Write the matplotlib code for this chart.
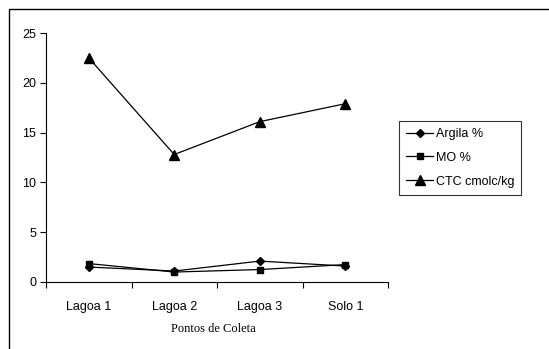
import matplotlib.pyplot as plt
from matplotlib.patches import Rectangle

categories = ["Lagoa 1", "Lagoa 2", "Lagoa 3", "Solo 1"]
argila = [1.5, 1.1, 2.1, 1.6]
mo = [1.85, 1.0, 1.25, 1.75]
ctc = [22.5, 12.8, 16.1, 17.9]
labels = ["Argila %", "MO %", "CTC cmolc/kg"]

W, H = 549, 349
fig = plt.figure(figsize=(W / 100, H / 100), dpi=100)
plt.rcParams['font.family'] = ['Liberation Sans', 'DejaVu Sans']

# outer chart frame (clipped at right and bottom like the reference)
fig.patches.append(Rectangle((9 / W, -0.1), 1.2, (H - 9) / H + 0.1, transform=fig.transFigure,
                             fill=False, edgecolor='black', linewidth=1.0))

ax = fig.add_axes([46 / W, (H - 282) / H, (388 - 46) / W, (282 - 33) / H])
x = range(len(categories))
ax.plot(x, argila, color='black', lw=0.9, marker='D', ms=4.5, label=labels[0])
ax.plot(x, mo, color='black', lw=0.9, marker='s', ms=5, label=labels[1])
ax.plot(x, ctc, color='black', lw=0.9, marker='^', ms=6.5, label=labels[2])

ax.set_xlim(-0.5, 3.5)
ax.set_ylim(0, 25)
ax.set_yticks([0, 5, 10, 15, 20, 25])
ax.set_xticks(x)
ax.set_xticklabels(categories)
ax.set_xticks([-0.5, 0.5, 1.5, 2.5, 3.5], minor=True)
ax.tick_params(axis='x', which='major', length=0, pad=14, labelsize=9)
ax.tick_params(axis='x', which='minor', length=4, width=0.8, direction='out')
ax.tick_params(axis='y', length=4, width=0.8, labelsize=9, pad=3)
for s in ['top', 'right']:
    ax.spines[s].set_visible(False)
for s in ['left', 'bottom']:
    ax.spines[s].set_linewidth(0.8)

fig.text(213 / W, 1 - 329 / H, "Pontos de Coleta", ha='center', va='center',
         family=['Liberation Serif', 'DejaVu Serif'], fontsize=9)

leg = fig.legend(loc='upper left', bbox_to_anchor=(399 / W, 1 - 121 / H), frameon=True,
                 fancybox=False, edgecolor='black', fontsize=9, handlelength=2.2,
                 handletextpad=0.2, borderpad=0.55, labelspacing=0.95, borderaxespad=0)
leg.get_frame().set_linewidth(0.8)

fig.savefig("out.png", dpi=100)
